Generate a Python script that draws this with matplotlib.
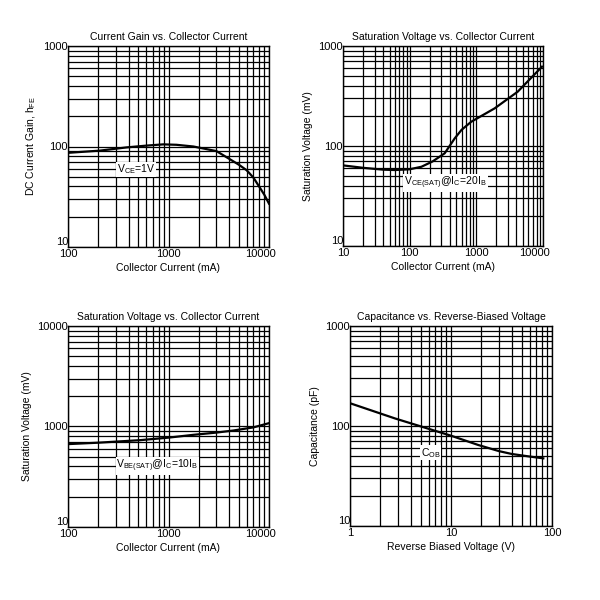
import matplotlib
matplotlib.use("Agg")
import matplotlib.pyplot as plt
import matplotlib.transforms as mtrans
from matplotlib.ticker import LogLocator, FixedLocator, FixedFormatter, NullFormatter

plt.rcParams['font.family'] = ['Liberation Sans', 'DejaVu Sans']
plt.rcParams['mathtext.default'] = 'regular'

# --- data ---
# hFE vs collector current (mA)
gain_ic = [100, 208, 384, 600, 888, 1200, 1766, 3000, 3800, 5000, 6000, 7000, 8100, 9000, 10000]
gain_hfe = [86.5, 91, 98, 102, 105, 104, 100, 90, 78, 66, 58, 49, 39, 33, 27]

# VCE(sat) vs collector current (mA)
vce_ic = [10, 20, 40, 60, 100, 150, 220, 335, 473, 600, 841, 1884, 4170, 9660]
vce_mv = [64, 60.5, 58, 57.5, 58.5, 62, 70, 84.5, 119, 145, 175, 238, 349, 621]

# VBE(sat) vs collector current (mA)
vbe_ic = [100, 200, 520, 1000, 1766, 3000, 4420, 7000, 10000]
vbe_mv = [668, 690, 731, 775, 826, 870, 912, 980, 1080]

# Cob vs reverse voltage (V)
cob_v = [1, 2.79, 5.75, 10, 18.6, 30, 40, 60, 82]
cob_pf = [169, 119, 95, 80, 64.6, 56, 52.5, 49.5, 47.5]

FS = 7.5


def setup(ax, xlim, ylim, xlabel, ylabel, title, ylabels=None):
    ax.set_xscale('log')
    ax.set_yscale('log')
    ax.set_xlim(*xlim)
    ax.set_ylim(*ylim)
    ax.xaxis.set_major_locator(LogLocator(base=10))
    ax.xaxis.set_minor_locator(LogLocator(base=10, subs=range(2, 10)))
    ax.yaxis.set_major_locator(LogLocator(base=10))
    ax.yaxis.set_minor_locator(LogLocator(base=10, subs=range(2, 10)))
    ax.xaxis.set_major_formatter(plt.FuncFormatter(lambda v, p: '%d' % round(v)))
    ax.yaxis.set_major_formatter(plt.FuncFormatter(lambda v, p: '%d' % round(v)))
    ax.xaxis.set_minor_formatter(NullFormatter())
    ax.yaxis.set_minor_formatter(NullFormatter())
    if ylabels is not None:
        ax.yaxis.set_major_locator(FixedLocator(ylabels[0]))
        ax.yaxis.set_major_formatter(FixedFormatter(ylabels[1]))
    ax.grid(True, which='both', color='black', lw=0.9)
    ax.tick_params(which='both', length=0, labelsize=8, pad=1.5)
    ax.tick_params(axis='y', pad=0)
    for s in ax.spines.values():
        s.set_linewidth(1.0)
        s.set_color('black')
    ax.set_title(title, fontsize=FS, pad=4)
    ax.set_xlabel(xlabel, fontsize=FS, labelpad=3)
    ax.set_ylabel(ylabel, fontsize=FS, labelpad=4)


def nudge_labels(ax, shift_last_x):
    # bottom y label sits a bit above the axis, last x label pulled inwards
    fig = ax.figure
    y0 = ax.get_ylim()[0]
    for t in ax.yaxis.get_major_ticks():
        if abs(t.get_loc() - y0) < 1e-9 * y0:
            t.label1.set_va('bottom')
    if shift_last_x:
        x1 = ax.get_xlim()[1]
        for t in ax.xaxis.get_major_ticks():
            if abs(t.get_loc() - x1) < 1e-9 * x1:
                off = mtrans.ScaledTranslation(-9 / 100, 0, fig.dpi_scale_trans)
                t.label1.set_transform(t.label1.get_transform() + off)


fig = plt.figure(figsize=(6, 6), dpi=100)

ax1 = fig.add_axes([68 / 600, 1 - 247 / 600, 201 / 600, 201 / 600])
setup(ax1, (100, 10000), (10, 1000), 'Collector Current (mA)',
      'DC Current Gain, h$_{FE}$', 'Current Gain vs. Collector Current')
ax1.plot(gain_ic, gain_hfe, color='black', lw=1.6)
ax1.text(476, 59, 'V$_{CE}$=1V', fontsize=FS, ha='center', va='center',
         bbox=dict(facecolor='white', edgecolor='none', pad=0.6))

ax2 = fig.add_axes([343 / 600, 1 - 246 / 600, 200 / 600, 200 / 600])
setup(ax2, (10, 10000), (10, 1000), 'Collector Current (mA)',
      'Saturation Voltage (mV)', 'Saturation Voltage vs. Collector Current')
ax2.plot(vce_ic, vce_mv, color='black', lw=1.6)
ax2.text(344, 43, 'V$_{CE(SAT)}$@I$_{C}$=20I$_{B}$', fontsize=FS, ha='center', va='center',
         bbox=dict(facecolor='white', edgecolor='none', pad=0.6))

ax3 = fig.add_axes([68 / 600, 1 - 527 / 600, 201 / 600, 201 / 600])
setup(ax3, (100, 10000), (100, 10000), 'Collector Current (mA)',
      'Saturation Voltage (mV)', 'Saturation Voltage vs. Collector Current',
      ylabels=([100, 1000, 10000], ['10', '1000', '10000']))
ax3.plot(vbe_ic, vbe_mv, color='black', lw=1.6)
ax3.text(777, 406, 'V$_{BE(SAT)}$@I$_{C}$=10I$_{B}$', fontsize=FS, ha='center', va='center',
         bbox=dict(facecolor='white', edgecolor='none', pad=0.6))

ax4 = fig.add_axes([350 / 600, 1 - 526 / 600, 202 / 600, 200 / 600])
setup(ax4, (1, 100), (10, 1000), 'Reverse Biased Voltage (V)',
      'Capacitance (pF)', 'Capacitance vs. Reverse-Biased Voltage')
ax4.plot(cob_v, cob_pf, color='black', lw=1.6)
ax4.text(6.3, 54, 'C$_{OB}$', fontsize=FS, ha='center', va='center',
         bbox=dict(facecolor='white', edgecolor='none', pad=0.6))

fig.canvas.draw()
nudge_labels(ax1, True)
nudge_labels(ax2, True)
nudge_labels(ax3, True)
nudge_labels(ax4, False)

fig.savefig('out.png', dpi=100)
